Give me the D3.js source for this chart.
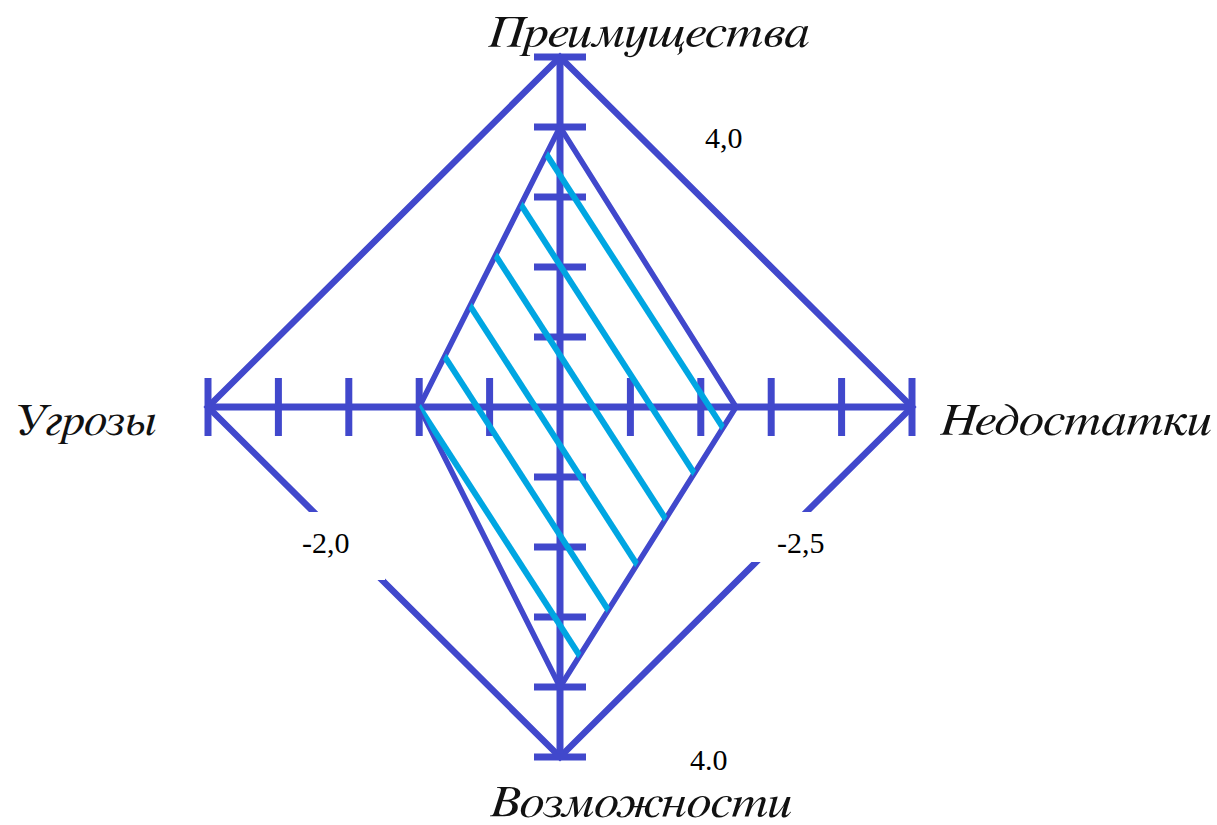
<!DOCTYPE html>
<html>
<head>
<meta charset="utf-8">
<script src="https://cdn.jsdelivr.net/npm/d3@7"></script>
<style>
  body { margin: 0; background: #fff; }
  svg { display: block; }
</style>
</head>
<body>
<div id="chart"></div>
<script>
// axes go top, right, bottom, left
var axisNames = ["Преимущества", "Недостатки", "Возможности", "Угрозы"];
var axisValues = [4.0, 2.5, 4.0, 2.0];
var valueLabels = ["4,0", "-2,5", "4.0", "-2,0"];
var tickValues = [1, 2, 3, 4, 5];
var axisMax = 5;

(function () {
  var width = 1217, height = 825;
  var cx = 560, cy = 407;
  var blue = "#4148cc", cyan = "#00a6e2";

  var svg = d3.select("#chart").append("svg")
    .attr("width", width)
    .attr("height", height);

  var sx = d3.scaleLinear().domain([0, axisMax]).range([0, 352]);
  var sy = d3.scaleLinear().domain([0, axisMax]).range([0, 350]);

  var dirs = [[0, -1], [1, 0], [0, 1], [-1, 0]];
  function pt(i, v) {
    return [cx + dirs[i][0] * sx(v), cy + dirs[i][1] * sy(v)];
  }

  var line = d3.line();

  // outer diamond
  svg.append("path")
    .attr("d", line(dirs.map(function (d, i) { return pt(i, axisMax); })) + "Z")
    .attr("fill", "none")
    .attr("stroke", blue)
    .attr("stroke-width", 6.5)
    .attr("stroke-linejoin", "miter");

  // white boxes behind the lower value labels (cut the diamond)
  var boxes = [
    {x: 185, y: 105, w: 92, h: 50},
    {x: -275, y: 105, w: 100, h: 68}
  ];
  svg.selectAll("rect.box").data(boxes).enter().append("rect")
    .attr("class", "box")
    .attr("x", function (d) { return cx + d.x; })
    .attr("y", function (d) { return cy + d.y; })
    .attr("width", function (d) { return d.w; })
    .attr("height", function (d) { return d.h; })
    .attr("fill", "#fff");

  // axes
  [[0, 2], [3, 1]].forEach(function (p) {
    var a = pt(p[0], axisMax), b = pt(p[1], axisMax);
    svg.append("line")
      .attr("x1", a[0]).attr("y1", a[1])
      .attr("x2", b[0]).attr("y2", b[1])
      .attr("stroke", blue)
      .attr("stroke-width", 7);
  });

  // ticks
  dirs.forEach(function (d, i) {
    svg.selectAll("line.tick" + i).data(tickValues).enter().append("line")
      .attr("class", "tick" + i)
      .each(function (v) {
        var p = pt(i, v), el = d3.select(this);
        if (d[0] === 0) {
          el.attr("x1", p[0] - 26).attr("x2", p[0] + 26).attr("y1", p[1]).attr("y2", p[1]);
        } else {
          el.attr("x1", p[0]).attr("x2", p[0]).attr("y1", p[1] - 29).attr("y2", p[1] + 29);
        }
      })
      .attr("stroke", blue)
      .attr("stroke-width", 7);
  });

  // value polygon
  var poly = axisValues.map(function (v, i) { return pt(i, v); });
  var polyPath = line(poly) + "Z";

  svg.append("clipPath").attr("id", "polyClip")
    .append("path").attr("d", polyPath);

  svg.append("path")
    .attr("d", polyPath)
    .attr("fill", "none")
    .attr("stroke", blue)
    .attr("stroke-width", 5.5)
    .attr("stroke-linejoin", "round");

  // hatch, clipped to the polygon
  var slope = 1.55, step = 90;
  var c0 = slope * poly[3][0] - poly[3][1];
  var hatch = d3.range(6).map(function (k) { return c0 + k * step; });
  svg.append("g").attr("clip-path", "url(#polyClip)")
    .selectAll("line").data(hatch).enter().append("line")
    .attr("x1", 300).attr("y1", function (c) { return slope * 300 - c; })
    .attr("x2", 850).attr("y2", function (c) { return slope * 850 - c; })
    .attr("stroke", cyan)
    .attr("stroke-width", 6);

  // axis names
  var namePos = [
    {dx: -72, dy: -360, w: 322},
    {dx: 380, dy: 28, w: 272},
    {dx: -70, dy: 410, w: 302},
    {dx: -547, dy: 28, w: 144}
  ];
  svg.selectAll("text.name").data(axisNames).enter().append("text")
    .attr("class", "name")
    .attr("x", function (d, i) { return cx + namePos[i].dx; })
    .attr("y", function (d, i) { return cy + namePos[i].dy; })
    .attr("textLength", function (d, i) { return namePos[i].w; })
    .attr("lengthAdjust", "spacingAndGlyphs")
    .style("font-family", "'FreeSerif', 'Liberation Serif', serif")
    .style("font-style", "italic")
    .style("font-size", "46px")
    .attr("fill", "#111")
    .text(function (d) { return d; });

  // value labels
  var valPos = [
    {dx: 145, dy: -259},
    {dx: 217, dy: 146},
    {dx: 130, dy: 363},
    {dx: -258, dy: 146}
  ];
  svg.selectAll("text.val").data(valueLabels).enter().append("text")
    .attr("class", "val")
    .attr("x", function (d, i) { return cx + valPos[i].dx; })
    .attr("y", function (d, i) { return cy + valPos[i].dy; })
    .style("font-family", "'Liberation Serif', 'Times New Roman', serif")
    .style("font-size", "30px")
    .attr("fill", "#000")
    .text(function (d) { return d; });
}());
</script>
</body>
</html>
